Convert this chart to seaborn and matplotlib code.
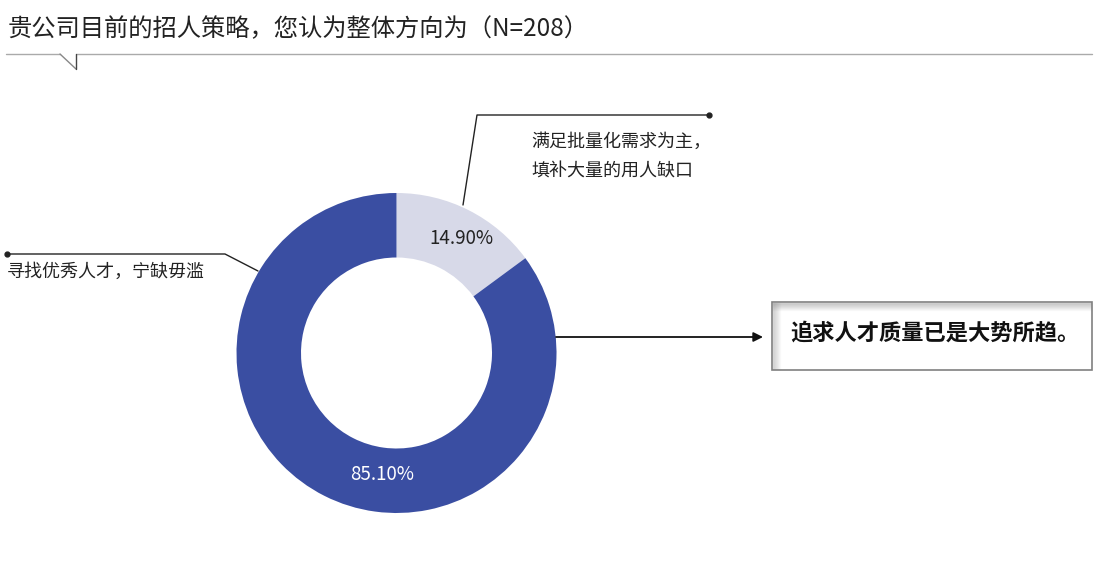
import matplotlib.pyplot as plt
import seaborn as sns
from matplotlib.patches import Rectangle

# dados
categorias = ['满足批量化需求为主，\n填补大量的用人缺口', '寻找优秀人才，宁缺毋滥']
percentuais = [14.90, 85.10]
cores = ['#D7D9E8', '#3A4EA2']
titulo = '贵公司目前的招人策略，您认为整体方向为（N=208）'
destaque = '追求人才质量已是大势所趋。'

sns.set_theme(style='white')
plt.rcParams['font.family'] = ['Noto Sans CJK SC', 'DejaVu Sans']

W, H = 1098, 578
fig = plt.figure(figsize=(W / 100, H / 100), dpi=100)
ax = fig.add_axes([0, 0, 1, 1])


def Y(y):
    # posição em pixels medida de cima
    return H - y


cx, cy, raio = 396.5, Y(353), 160
wedges, textos, pcts = ax.pie(
    percentuais, colors=cores, startangle=90, counterclock=False,
    radius=raio, center=(cx, cy), autopct='%.2f%%', pctdistance=0.83,
    wedgeprops=dict(width=64.5, linewidth=0),
    textprops=dict(fontsize=13.5, fontweight='medium'))
pcts[0].set_color('#222222')
pcts[0].set_position((cx + 65, cy + 115))
pcts[1].set_color('white')
pcts[1].set_position((cx - 14, cy - 122))

ax.set_xlim(0, W)
ax.set_ylim(0, H)
ax.set_aspect('equal')
ax.axis('off')

# titulo e linha
ax.text(8, Y(29), titulo, fontsize=17.5, fontweight='medium', color='#222222',
        va='center', ha='left')
ax.plot([6, 60], [Y(54), Y(54)], color='#aaaaaa', lw=1)
ax.plot([76, 1092], [Y(54), Y(54)], color='#aaaaaa', lw=1)
ax.plot([60, 76], [Y(54), Y(69)], color='#888888', lw=1)
ax.plot([76, 76], [Y(69), Y(54)], color='#444444', lw=1)

# rotulos com linhas
linha1, linha2 = categorias[0].split('\n')
ax.plot([463, 477, 709], [Y(205), Y(115), Y(115)], color='#222222', lw=1)
ax.plot([709], [Y(115)], 'o', color='#222222', ms=3.5)
ax.text(531, Y(142), linha1, fontsize=13, fontweight='medium', color='#222222', va='center')
ax.text(531, Y(172), linha2, fontsize=13, fontweight='medium', color='#222222', va='center')

ax.plot([258, 225, 7], [Y(271), Y(254), Y(254)], color='#222222', lw=1)
ax.plot([7], [Y(254)], 'o', color='#222222', ms=3.5)
ax.text(7, Y(272), categorias[1], fontsize=13, fontweight='medium', color='#222222', va='center')

# seta e caixa de destaque
ax.annotate('', xy=(763, Y(337)), xytext=(556, Y(337)),
            arrowprops=dict(arrowstyle='-|>', color='#111111', lw=1.3,
                            mutation_scale=14, shrinkA=0, shrinkB=0))
x0, y0, x1, y1 = 772, 302, 1092, 370
ax.add_patch(Rectangle((x0, Y(y1)), x1 - x0, y1 - y0, facecolor='white',
                       edgecolor='#808080', lw=1.2))
for i in range(8):
    a = 0.35 * (1 - i / 8)
    ax.plot([x0 + 1, x1 - 1], [Y(y0 + 1 + i), Y(y0 + 1 + i)], color='gray', alpha=a, lw=1)
    ax.plot([x0 + 1 + i, x0 + 1 + i], [Y(y0 + 1), Y(y1 - 1)], color='gray', alpha=a * 0.8, lw=1)
ax.text(935, Y(333), destaque, fontsize=16, fontweight='bold',
        color='#111111', ha='center', va='center')

fig.savefig('out.png', dpi=100)
